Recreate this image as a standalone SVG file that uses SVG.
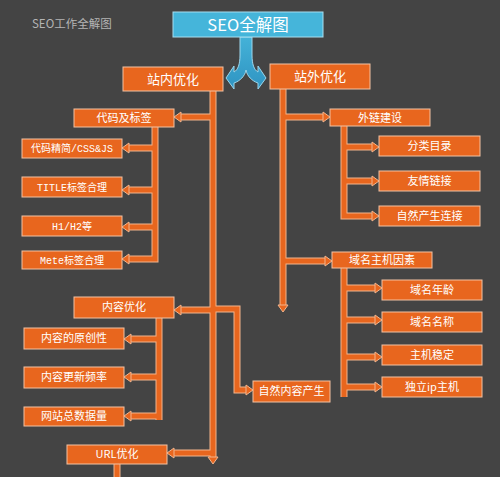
<svg xmlns="http://www.w3.org/2000/svg" width="500" height="477" viewBox="0 0 500 477">
<style>
.bx{fill:#e8661e;stroke:#f3c2a2;stroke-width:1}
.t{fill:#ffffff;font-family:"Noto Sans CJK SC","Noto Sans",sans-serif;font-size:11px;text-anchor:middle}
.t1{font-size:13px}
.t0{font-size:16.5px}
.tm{font-family:"Liberation Mono","Noto Sans CJK SC",monospace;font-size:10px}
.cas{fill:none;stroke:#f2b48c;stroke-width:7}
.core{fill:none;stroke:#e8661e;stroke-width:5}
</style>
<defs>
<marker id="ah" markerUnits="userSpaceOnUse" viewBox="-1 -6 10 12" refX="0" refY="0" markerWidth="10" markerHeight="12" orient="auto">
<path d="M0,-5 L7,0 L0,5 Z" fill="#e8661e" stroke="#f2b48c" stroke-width="1"/>
</marker>
<linearGradient id="bl" x1="0" y1="0" x2="0" y2="1">
<stop offset="0" stop-color="#44b2d8"/>
<stop offset="1" stop-color="#2f94c2"/>
</linearGradient>
</defs>
<rect width="500" height="477" fill="#444444"/>
<text x="32" y="28" font-family="Noto Sans CJK SC,sans-serif" font-size="11.5" fill="#b4b4b4">SEO工作全解图</text>

<g id="connectors">
<path d="M240,37 H252 V55 C252,64 254,70 258,72 V66 L266,78 L258,89 V83 C252,81 247,76 246,70 C245,76 240,81 234,83 V89 L226,78 L234,66 V72 C238,70 240,64 240,55 Z" fill="url(#bl)" stroke="#9cd6ec" stroke-width="1"/>
<g class="cas">
<path d="M213,91 V457"/>
<path d="M283,89 V305"/>
<path d="M213,117 H181"/>
<path d="M213,310 H181"/>
<path d="M213,453 H174"/>
<path d="M213,309 H237 V390 H246"/>
<path d="M283,117 H323"/>
<path d="M283,261 H325"/>
<path d="M155,127 V259 H129"/>
<path d="M155,148 H129"/><path d="M155,190 H129"/><path d="M155,227 H129"/>
<path d="M344,126 V216 H372"/>
<path d="M344,147 H372"/><path d="M344,181 H372"/>
<path d="M344,268 V397"/>
<path d="M344,288 H375"/><path d="M344,320 H375"/><path d="M344,357 H375"/><path d="M344,387 H375"/>
<path d="M159,318 V420"/>
<path d="M159,339 H131"/><path d="M159,377 H131"/><path d="M159,416 H131"/>
<path d="M117,464 V480"/>
</g>
<g class="core" marker-end="url(#ah)">
<path d="M213,91 V457"/>
<path d="M283,89 V305"/>
<path d="M213,117 H181"/>
<path d="M213,310 H181"/>
<path d="M213,453 H174"/>
<path d="M213,309 H237 V390 H246"/>
<path d="M283,117 H323"/>
<path d="M283,261 H325"/>
<path d="M155,127 V259 H129"/>
<path d="M155,148 H129"/><path d="M155,190 H129"/><path d="M155,227 H129"/>
<path d="M344,126 V216 H372"/>
<path d="M344,147 H372"/><path d="M344,181 H372"/>
<path d="M344,268 V397" marker-end="none"/>
<path d="M344,288 H375"/><path d="M344,320 H375"/><path d="M344,357 H375"/><path d="M344,387 H375"/>
<path d="M159,318 V420" marker-end="none"/>
<path d="M159,339 H131"/><path d="M159,377 H131"/><path d="M159,416 H131"/>
<path d="M117,464 V480" marker-end="none"/>
</g>
</g>

<g id="n-seo"><rect x="173" y="12" width="150" height="25" fill="#45b5da" stroke="#a6def0" stroke-width="1"/><text class="t t0" x="248" y="30.5">SEO全解图</text></g>
<g id="n-zhannei"><rect class="bx" x="123" y="67" width="100" height="24"/><text class="t t1" x="173" y="84">站内优化</text></g>
<g id="n-zhanwai"><rect class="bx" x="270" y="64" width="100" height="25"/><text class="t t1" x="320" y="81">站外优化</text></g>
<g id="n-daima"><rect class="bx" x="74" y="109" width="100" height="18"/><text class="t" x="124" y="122">代码及标签</text></g>
<g id="n-jingjian"><rect class="bx" x="22" y="139" width="100" height="19"/><text class="t tm" x="72" y="152">代码精简/CSS&amp;JS</text></g>
<g id="n-title"><rect class="bx" x="22" y="177" width="100" height="20"/><text class="t tm" x="72" y="191">TITLE标签合理</text></g>
<g id="n-h1"><rect class="bx" x="22" y="216" width="100" height="20"/><text class="t tm" x="72" y="230">H1/H2等</text></g>
<g id="n-mete"><rect class="bx" x="22" y="251" width="100" height="18"/><text class="t tm" x="72" y="264">Mete标签合理</text></g>
<g id="n-neirong"><rect class="bx" x="74" y="297" width="100" height="21"/><text class="t" x="124" y="311">内容优化</text></g>
<g id="n-yuanchuang"><rect class="bx" x="24" y="328" width="100" height="21"/><text class="t" x="74" y="342">内容的原创性</text></g>
<g id="n-gengxin"><rect class="bx" x="24" y="367" width="100" height="21"/><text class="t" x="74" y="381">内容更新频率</text></g>
<g id="n-shuju"><rect class="bx" x="24" y="407" width="100" height="19"/><text class="t" x="74" y="420">网站总数据量</text></g>
<g id="n-url"><rect class="bx" x="67" y="445" width="100" height="19"/><text class="t" x="117" y="458">URL优化</text></g>
<g id="n-ziran"><rect class="bx" x="253" y="381" width="77" height="21"/><text class="t" x="291.5" y="395">自然内容产生</text></g>
<g id="n-wailian"><rect class="bx" x="330" y="109" width="100" height="17"/><text class="t" x="380" y="121.5">外链建设</text></g>
<g id="n-fenlei"><rect class="bx" x="379" y="136" width="101" height="20"/><text class="t" x="429.5" y="150">分类目录</text></g>
<g id="n-youqing"><rect class="bx" x="379" y="171" width="101" height="20"/><text class="t" x="429.5" y="185">友情链接</text></g>
<g id="n-ziranlj"><rect class="bx" x="379" y="206" width="101" height="20"/><text class="t" x="429.5" y="220">自然产生连接</text></g>
<g id="n-yuming"><rect class="bx" x="332" y="252" width="100" height="16"/><text class="t" x="382" y="264">域名主机因素</text></g>
<g id="n-nianling"><rect class="bx" x="382" y="280" width="100" height="20"/><text class="t" x="432" y="294">域名年龄</text></g>
<g id="n-mingcheng"><rect class="bx" x="382" y="312" width="100" height="20"/><text class="t" x="432" y="326">域名名称</text></g>
<g id="n-wending"><rect class="bx" x="382" y="345" width="100" height="20"/><text class="t" x="432" y="359">主机稳定</text></g>
<g id="n-ip"><rect class="bx" x="382" y="377" width="100" height="20"/><text class="t" x="432" y="391">独立ip主机</text></g>
</svg>
